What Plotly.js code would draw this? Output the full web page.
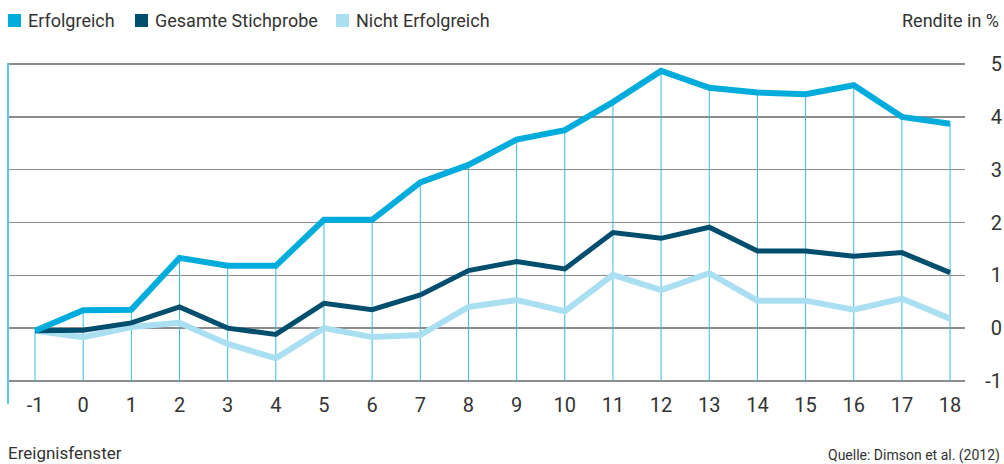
<!DOCTYPE html>
<html>
<head>
<meta charset="utf-8">
<script src="https://cdn.plot.ly/plotly-3.0.1.min.js"></script>
<style>
html,body{margin:0;padding:0;background:#fff;}
#chart{width:1004px;height:464px;}
</style>
</head>
<body>
<div id="chart"></div>
<script>
// ---- data ----
var windows = [-1,0,1,2,3,4,5,6,7,8,9,10,11,12,13,14,15,16,17,18];
var erfolgreich = [-0.05,0.34,0.35,1.33,1.18,1.18,2.05,2.05,2.76,3.09,3.57,3.75,4.28,4.87,4.55,4.46,4.43,4.60,4.00,3.87];
var gesamt = [-0.05,-0.04,0.10,0.40,0.00,-0.12,0.47,0.35,0.63,1.09,1.26,1.12,1.81,1.70,1.91,1.46,1.46,1.36,1.43,1.05];
var nichtErfolgreich = [-0.05,-0.17,0.02,0.10,-0.30,-0.57,0.00,-0.17,-0.13,0.40,0.53,0.32,1.01,0.72,1.04,0.52,0.52,0.35,0.56,0.18];
var seriesNames = ['Erfolgreich','Gesamte Stichprobe','Nicht Erfolgreich'];
var seriesColors = ['#00acdc','#004e6d','#aadff2'];
var yTicks = [-1,0,1,2,3,4,5];
var xTicks = windows;

// ---- drop lines from the top series down to the axis floor ----
var yFloor = yTicks[0];
var dropX = [], dropY = [];
windows.forEach(function(x, i){
  var top = Math.max(erfolgreich[i], gesamt[i], nichtErfolgreich[i]);
  dropX.push(x, x, null);
  dropY.push(yFloor, top, null);
});

var FONT = 'Roboto, "Noto Sans", sans-serif';
var TXT = '#333333';
var Y_RANGE = [-1.02, 5.02];

var traces = [
  {x: dropX, y: dropY, yaxis: 'y', mode: 'lines', line: {color: '#3cb9e2', width: 1}, showlegend: false, hoverinfo: 'skip'},
  {x: windows, y: nichtErfolgreich, yaxis: 'y2', mode: 'lines', name: seriesNames[2], line: {color: seriesColors[2], width: 6}, showlegend: false},
  {x: windows, y: gesamt, yaxis: 'y2', mode: 'lines', name: seriesNames[1], line: {color: seriesColors[1], width: 5}, showlegend: false},
  {x: windows, y: erfolgreich, yaxis: 'y2', mode: 'lines', name: seriesNames[0], line: {color: seriesColors[0], width: 6}, showlegend: false}
];

// ---- manual legend (square + label per series), geometry in pixels ----
var L = 8, PW = 996, T = 63, PH = 319;
function px2x(px){ return (px - L) / PW; }
function py2y(py){ return (T + PH - py) / PH; }
var legendLeft = [8, 135, 336];
var legendShapes = [], legendAnn = [];
seriesNames.forEach(function(n, i){
  legendShapes.push({type: 'rect', xref: 'paper', yref: 'paper',
    x0: px2x(legendLeft[i]), x1: px2x(legendLeft[i] + 13), y0: py2y(27), y1: py2y(14),
    fillcolor: seriesColors[i], line: {width: 0}});
  legendAnn.push({text: n, xref: 'paper', yref: 'paper', x: px2x(legendLeft[i] + 18), y: py2y(20.5),
    xanchor: 'left', yanchor: 'middle', showarrow: false, font: {family: FONT, size: 18, color: TXT}});
});

var layout = {
  width: 1004, height: 464,
  margin: {l: L, r: 0, t: T, b: 464 - T - PH, pad: 0},
  paper_bgcolor: '#ffffff', plot_bgcolor: '#ffffff',
  font: {family: FONT, color: TXT, size: 18},
  showlegend: false,
  xaxis: {
    domain: [0, 0.96084],
    range: [-1.561, 18.31],
    tickvals: xTicks, ticktext: xTicks.map(String),
    showgrid: false, zeroline: false, showline: false, ticks: '',
    tickfont: {family: FONT, size: 20, color: TXT},
    ticklabelstandoff: 9,
    fixedrange: true
  },
  yaxis: {
    side: 'right',
    range: Y_RANGE,
    tickvals: yTicks,
    showticklabels: false,
    showgrid: true, gridcolor: '#8c8c8c', gridwidth: 1.5,
    zeroline: false, showline: false, ticks: '',
    fixedrange: true
  },
  yaxis2: {
    overlaying: 'y', anchor: 'free', position: 1, side: 'left',
    range: Y_RANGE,
    tickvals: yTicks, ticktext: yTicks.map(String),
    showgrid: false, zeroline: false, showline: false, ticks: '',
    tickfont: {family: FONT, size: 20, color: TXT},
    ticklabelstandoff: 2,
    fixedrange: true
  },
  shapes: [
    {type: 'line', xref: 'paper', yref: 'paper', x0: 0, x1: 0, y0: py2y(404), y1: py2y(63),
     line: {color: '#5cc4e8', width: 2}}
  ].concat(legendShapes),
  annotations: [
    {text: 'Rendite in %', xref: 'paper', yref: 'paper', x: px2x(1001), y: py2y(20.5), xanchor: 'right', yanchor: 'middle',
     showarrow: false, font: {family: FONT, size: 18, color: TXT}},
    {text: 'Ereignisfenster', xref: 'paper', yref: 'paper', x: px2x(6), y: py2y(453), xanchor: 'left', yanchor: 'middle',
     showarrow: false, font: {family: FONT, size: 17, color: TXT}},
    {text: 'Quelle: Dimson et al. (2012)', xref: 'paper', yref: 'paper', x: px2x(1002), y: py2y(455), xanchor: 'right', yanchor: 'middle',
     showarrow: false, font: {family: FONT, size: 14, color: TXT}}
  ].concat(legendAnn)
};

Plotly.newPlot('chart', traces, layout, {displayModeBar: false, staticPlot: true});
</script>
</body>
</html>
